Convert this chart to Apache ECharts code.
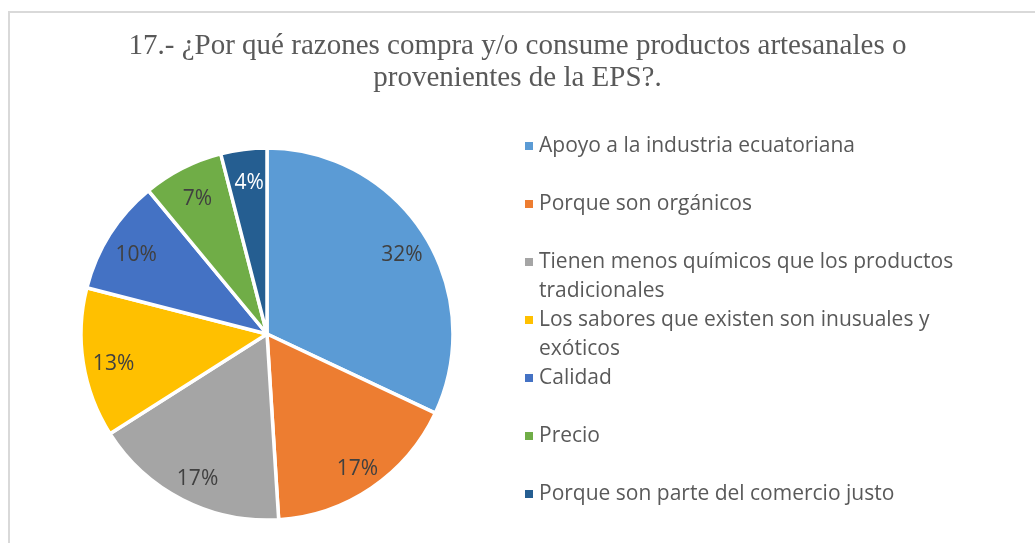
<!DOCTYPE html>
<html>
<head>
<meta charset="utf-8">
<script src="https://cdn.jsdelivr.net/npm/echarts@6/dist/echarts.min.js"></script>
<style>
  body { margin: 0; background: #fff; }
  #main { width: 1035px; height: 543px; }
</style>
</head>
<body>
<div id="main"></div>
<script>
// datos (porcentajes)
const categories = [
  'Apoyo a la industria ecuatoriana',
  'Porque son orgánicos',
  'Tienen menos químicos que los productos tradicionales',
  'Los sabores que existen son inusuales y exóticos',
  'Calidad',
  'Precio',
  'Porque son parte del comercio justo'
];
const values = [32, 17, 17, 13, 10, 7, 4];
// texto de leyenda con salto de linea como en el original
const legendLabels = [
  'Apoyo a la industria ecuatoriana',
  'Porque son orgánicos',
  'Tienen menos químicos que los productos\ntradicionales',
  'Los sabores que existen son inusuales y\nexóticos',
  'Calidad',
  'Precio',
  'Porque son parte del comercio justo'
];
const colors = ['#5B9BD5', '#ED7D31', '#A5A5A5', '#FFC000', '#4472C4', '#70AD47', '#255E91'];

const sansFont = 'Open Sans';
const center = [267, 334];
const R = 186;

// una leyenda por elemento para poder fijar cada fila
// en las de dos lineas el cuadro va arriba (icono alto con el cuadro en la parte superior)
const legends = categories.map((name, i) => {
  const wrapped = legendLabels[i].indexOf('\n') >= 0;
  return {
    orient: 'vertical',
    left: 523,
    top: 146 + i * 58 - 14.5,
    padding: 0,
    itemWidth: 10,
    itemHeight: wrapped ? 39 : 10,
    icon: wrapped ? 'path://M0,0H10V10H0Z M0,38.99H0.01V39H0Z' : 'rect',
    selectedMode: false,
    data: [name],
    formatter: () => legendLabels[i],
    textStyle: {
      fontFamily: sansFont,
      fontSize: 21,
      color: '#595959',
      lineHeight: 29
    }
  };
});

const option = {
  color: colors,
  animation: false,
  title: {
    text: '17.- ¿Por qué razones compra y/o consume productos artesanales o\nprovenientes de la EPS?.',
    left: 'center',
    top: 30,
    padding: [0, 0, 0, 14],
    textStyle: {
      fontFamily: 'Liberation Serif',
      fontWeight: 'normal',
      fontSize: 29,
      lineHeight: 32,
      color: '#595959'
    }
  },
  legend: legends,
  graphic: [{
    type: 'rect',
    silent: true,
    shape: { x: 9, y: 12, width: 1200, height: 700 },
    style: { fill: 'none', stroke: '#d9d9d9', lineWidth: 2 }
  }],
  series: [
    {
      name: 'pie',
      type: 'pie',
      center: center,
      radius: R,
      startAngle: 90,
      clockwise: true,
      label: { show: false },
      labelLine: { show: false },
      itemStyle: { borderColor: '#fff', borderWidth: 3.5 },
      emphasis: { disabled: true },
      data: categories.map((name, i) => ({ name: name, value: values[i] }))
    },
    {
      // pastel invisible solo para colocar las etiquetas mas hacia el borde
      name: 'labels',
      type: 'pie',
      center: [center[0] + 2, center[1] + 5],
      radius: R * 1.66,
      startAngle: 90,
      clockwise: true,
      silent: true,
      z: 3,
      itemStyle: { color: 'rgba(0,0,0,0)' },
      emphasis: { disabled: true },
      label: {
        show: true,
        position: 'inside',
        formatter: '{c}%',
        fontFamily: sansFont,
        fontSize: 21,
        color: '#404040'
      },
      labelLine: { show: false },
      data: categories.map((name, i) => ({
        name: name,
        value: values[i],
        label: { color: i === values.length - 1 ? '#fff' : '#404040' }
      }))
    }
  ]
};

const myChart = echarts.init(document.getElementById('main'));
myChart.setOption(option);
window.onresize = myChart.resize;
</script>
</body>
</html>
